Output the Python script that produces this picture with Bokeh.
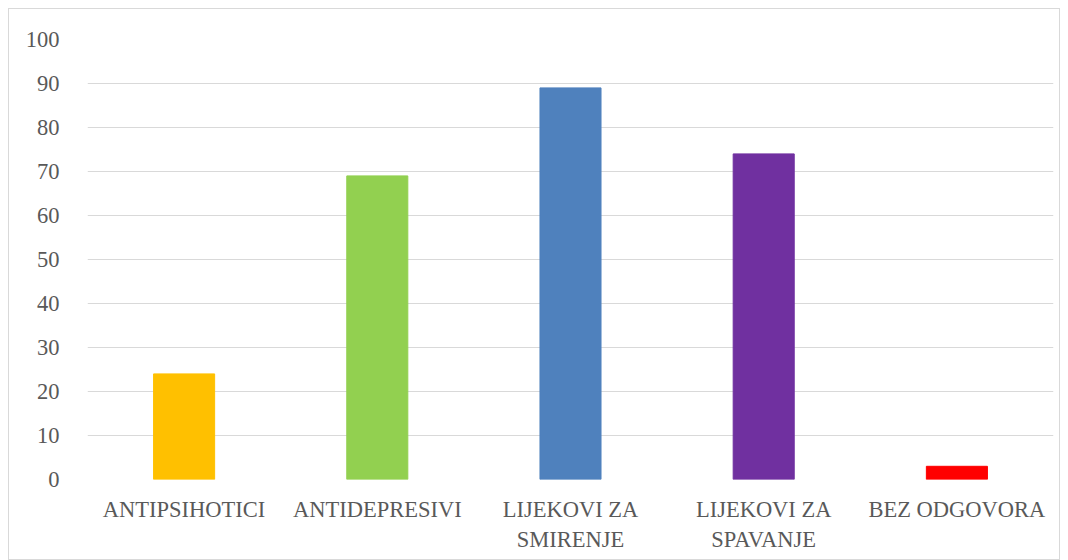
from bokeh.plotting import figure
from bokeh.embed import file_html
from bokeh.resources import INLINE
from bokeh.models import ColumnDataSource, FixedTicker, Range1d

categories = ["ANTIPSIHOTICI", "ANTIDEPRESIVI", "LIJEKOVI ZA\nSMIRENJE", "LIJEKOVI ZA\nSPAVANJE", "BEZ ODGOVORA"]
values = [24, 69, 89, 74, 3]
colors = ["#FFC000", "#92D050", "#4F81BD", "#7030A0", "#FF0000"]
y_ticks = [0, 10, 20, 30, 40, 50, 60, 70, 80, 90, 100]

FONT = "Liberation Serif"

src = ColumnDataSource(dict(cat=categories, val=values, color=colors))

p = figure(x_range=categories, y_range=Range1d(0, 100), width=1052, height=552,
           output_backend="svg", toolbar_location=None,
           min_border_left=78, min_border_right=8, min_border_top=30, min_border_bottom=82)
p.styles = {"border": "1px solid #D9D9D9", "box-sizing": "border-box",
            "margin-left": "8px", "margin-top": "8px"}
p.vbar(x="cat", top="val", width=0.316, color="color", source=src)

p.outline_line_color = None
p.xgrid.grid_line_color = None
p.ygrid.grid_line_color = "#D9D9D9"
p.ygrid.grid_line_width = 1
p.yaxis.ticker = FixedTicker(ticks=y_ticks)

for ax in (p.xaxis[0], p.yaxis[0]):
    ax.axis_line_color = None
    ax.major_tick_line_color = None
    ax.minor_tick_line_color = None
    ax.major_label_text_font = FONT
    ax.major_label_text_font_size = "22.5px"
    ax.major_label_text_color = "#595959"

p.yaxis.major_label_standoff = 22
p.xaxis.major_label_standoff = 11
p.x_range.range_padding = 0
p.background_fill_color = "white"
p.border_fill_color = "white"

open("out.html", "w").write(file_html(p, INLINE))
